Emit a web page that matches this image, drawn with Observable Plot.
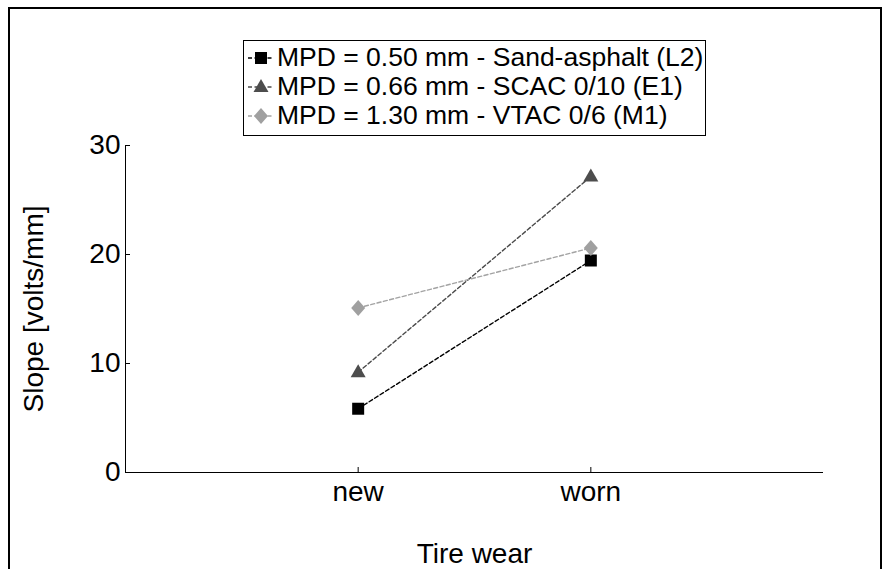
<!DOCTYPE html>
<html>
<head>
<meta charset="utf-8">
<script src="https://cdn.jsdelivr.net/npm/d3@7"></script>
<script src="https://cdn.jsdelivr.net/npm/@observablehq/plot@0.6"></script>
<style>
  html, body { margin: 0; padding: 0; background: #fff; overflow: hidden; }
  #wrap { position: relative; width: 894px; height: 569px; font-family: "Liberation Sans", Arial, sans-serif; }
  #border { position: absolute; left: 8px; top: 7px; width: 874px; height: 600px; border: 2px solid #000; box-sizing: border-box; pointer-events: none; }
  #legend { position: absolute; left: 243px; top: 40px; width: 463px; height: 96px; border: 1.5px solid #000; box-sizing: border-box; background: #fff; padding-top: 2px; }
  .row { display: flex; align-items: center; height: 29px; font-size: 26.5px; color: #000; white-space: nowrap; }
  .row svg { margin-left: 3px; margin-right: 2px; flex: none; }
</style>
</head>
<body>
<div id="wrap">
  <div id="chart"></div>
  <div id="legend"></div>
  <div id="border"></div>
</div>
<script>
// ---- data ----
const categories = ["new", "worn"];
const seriesNames = [
  "MPD = 0.50 mm - Sand-asphalt (L2)",
  "MPD = 0.66 mm - SCAC 0/10 (E1)",
  "MPD = 1.30 mm - VTAC 0/6 (M1)"
];
const valuesL2 = [5.85, 19.45];
const valuesE1 = [9.2, 27.15];
const valuesM1 = [15.1, 20.6];
const yTicks = [0, 10, 20, 30];
const xTicks = [1, 2];
const xLabel = "Tire wear";
const yLabel = "Slope [volts/mm]";

// ---- styles ----
const lineColors = ["#000000", "#4a4a4a", "#a3a3a3"];
const markColors = ["#000000", "#4d4d4d", "#a0a0a0"];

const symSquare = { draw(c) { c.moveTo(-6, -6); c.lineTo(6, -6); c.lineTo(6, 6); c.lineTo(-6, 6); c.closePath(); } };
const symTriangle = { draw(c) { c.moveTo(0, -8); c.lineTo(7.5, 5); c.lineTo(-7.5, 5); c.closePath(); } };
const symDiamond = { draw(c) { c.moveTo(0, -8); c.lineTo(7, 0); c.lineTo(0, 8); c.lineTo(-7, 0); c.closePath(); } };
const symbols = [symSquare, symTriangle, symDiamond];

const allValues = [valuesL2, valuesE1, valuesM1];
const rows = [];
allValues.forEach((vals, s) => vals.forEach((v, i) => rows.push({series: seriesNames[s], idx: s, x: i + 1, y: v})));

const marks = [
  Plot.ruleX([0]),
  Plot.ruleY([0]),
  // inward tick marks
  Plot.axisY({ticks: yTicks, tickSize: 5, dx: 5, text: null, label: null}),
  Plot.axisX({ticks: xTicks, tickSize: 5, dy: -5, text: null, label: null}),
  // labels
  Plot.axisY({ticks: yTicks, tickSize: 0, tickPadding: 5, fontSize: 28, label: yLabel, labelAnchor: "center", labelArrow: "none", labelOffset: 102}),
  Plot.axisX({ticks: xTicks, tickFormat: d => categories[d - 1], tickSize: 0, tickPadding: 9, fontSize: 28, label: xLabel, labelAnchor: "center", labelArrow: "none", labelOffset: 90})
];
seriesNames.forEach((name, s) => {
  const data = rows.filter(r => r.idx === s);
  marks.push(Plot.line(data, {x: "x", y: "y", stroke: lineColors[s], strokeWidth: 1.4, strokeDasharray: "4,2.5"}));
});
seriesNames.forEach((name, s) => {
  const data = rows.filter(r => r.idx === s);
  marks.push(Plot.dot(data, {x: "x", y: "y", symbol: () => symbols[s], fill: markColors[s], stroke: "none", r: 6}));
});

const chart = Plot.plot({
  width: 894,
  height: 569,
  marginLeft: 125,
  marginRight: 71,
  marginTop: 145,
  marginBottom: 97,
  style: {fontFamily: "'Liberation Sans', Arial, sans-serif", background: "#fff", color: "#000"},
  x: {domain: [0, 3], axis: null},
  y: {domain: [0, 30], axis: null},
  symbol: {type: "identity"},
  marks
});
document.getElementById("chart").appendChild(chart);

// ---- legend ----
const legend = document.getElementById("legend");
seriesNames.forEach((name, s) => {
  const row = document.createElement("div");
  row.className = "row";
  const svg = d3.create("svg").attr("width", 28).attr("height", 20);
  svg.append("line").attr("x1", 1).attr("x2", 27).attr("y1", 10).attr("y2", 10)
    .attr("stroke", lineColors[s]).attr("stroke-width", 1.4).attr("stroke-dasharray", "4,2.5");
  const p = d3.path();
  symbols[s].draw(p);
  svg.append("path").attr("d", p.toString()).attr("transform", "translate(14,10)").attr("fill", markColors[s]);
  row.appendChild(svg.node());
  const span = document.createElement("span");
  span.textContent = name;
  row.appendChild(span);
  legend.appendChild(row);
});
</script>
</body>
</html>
